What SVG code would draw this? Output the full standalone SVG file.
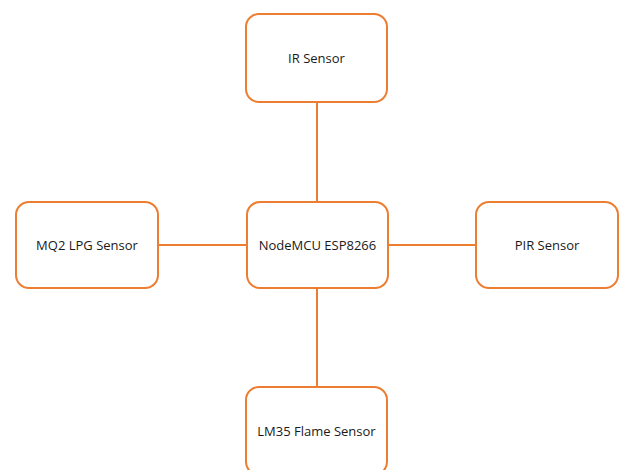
<svg xmlns="http://www.w3.org/2000/svg" width="619" height="470" viewBox="0 0 619 470">
<style>
.box{fill:#fff;stroke:#ED7D31;stroke-width:2}
.lbl{font-family:"Open Sans","Liberation Sans",sans-serif;font-size:13px;fill:#1a1a1a;text-anchor:middle;dominant-baseline:central}
.con{stroke:#ED7D31;stroke-width:2;fill:none}
</style>
<rect width="619" height="470" fill="#fff"/>
<g id="connectors">
<line class="con" x1="317" y1="102" x2="317" y2="202"/>
<line class="con" x1="317" y1="288" x2="317" y2="387"/>
<line class="con" x1="158" y1="245" x2="247" y2="245"/>
<line class="con" x1="388" y1="245" x2="476" y2="245"/>
</g>
<g id="ir"><rect class="box" x="246" y="14" width="141" height="88" rx="13"/><text class="lbl" x="316.5" y="58">IR Sensor</text></g>
<g id="mcu"><rect class="box" x="247" y="202" width="141" height="86" rx="13"/><text class="lbl" x="317.5" y="245">NodeMCU ESP8266</text></g>
<g id="mq2"><rect class="box" x="16" y="202" width="142" height="86" rx="13"/><text class="lbl" x="87" y="245">MQ2 LPG Sensor</text></g>
<g id="pir"><rect class="box" x="476" y="202" width="142" height="86" rx="13"/><text class="lbl" x="547" y="245">PIR Sensor</text></g>
<g id="lm35"><rect class="box" x="246" y="387" width="141" height="88" rx="13"/><text class="lbl" x="316.5" y="431">LM35 Flame Sensor</text></g>
</svg>
